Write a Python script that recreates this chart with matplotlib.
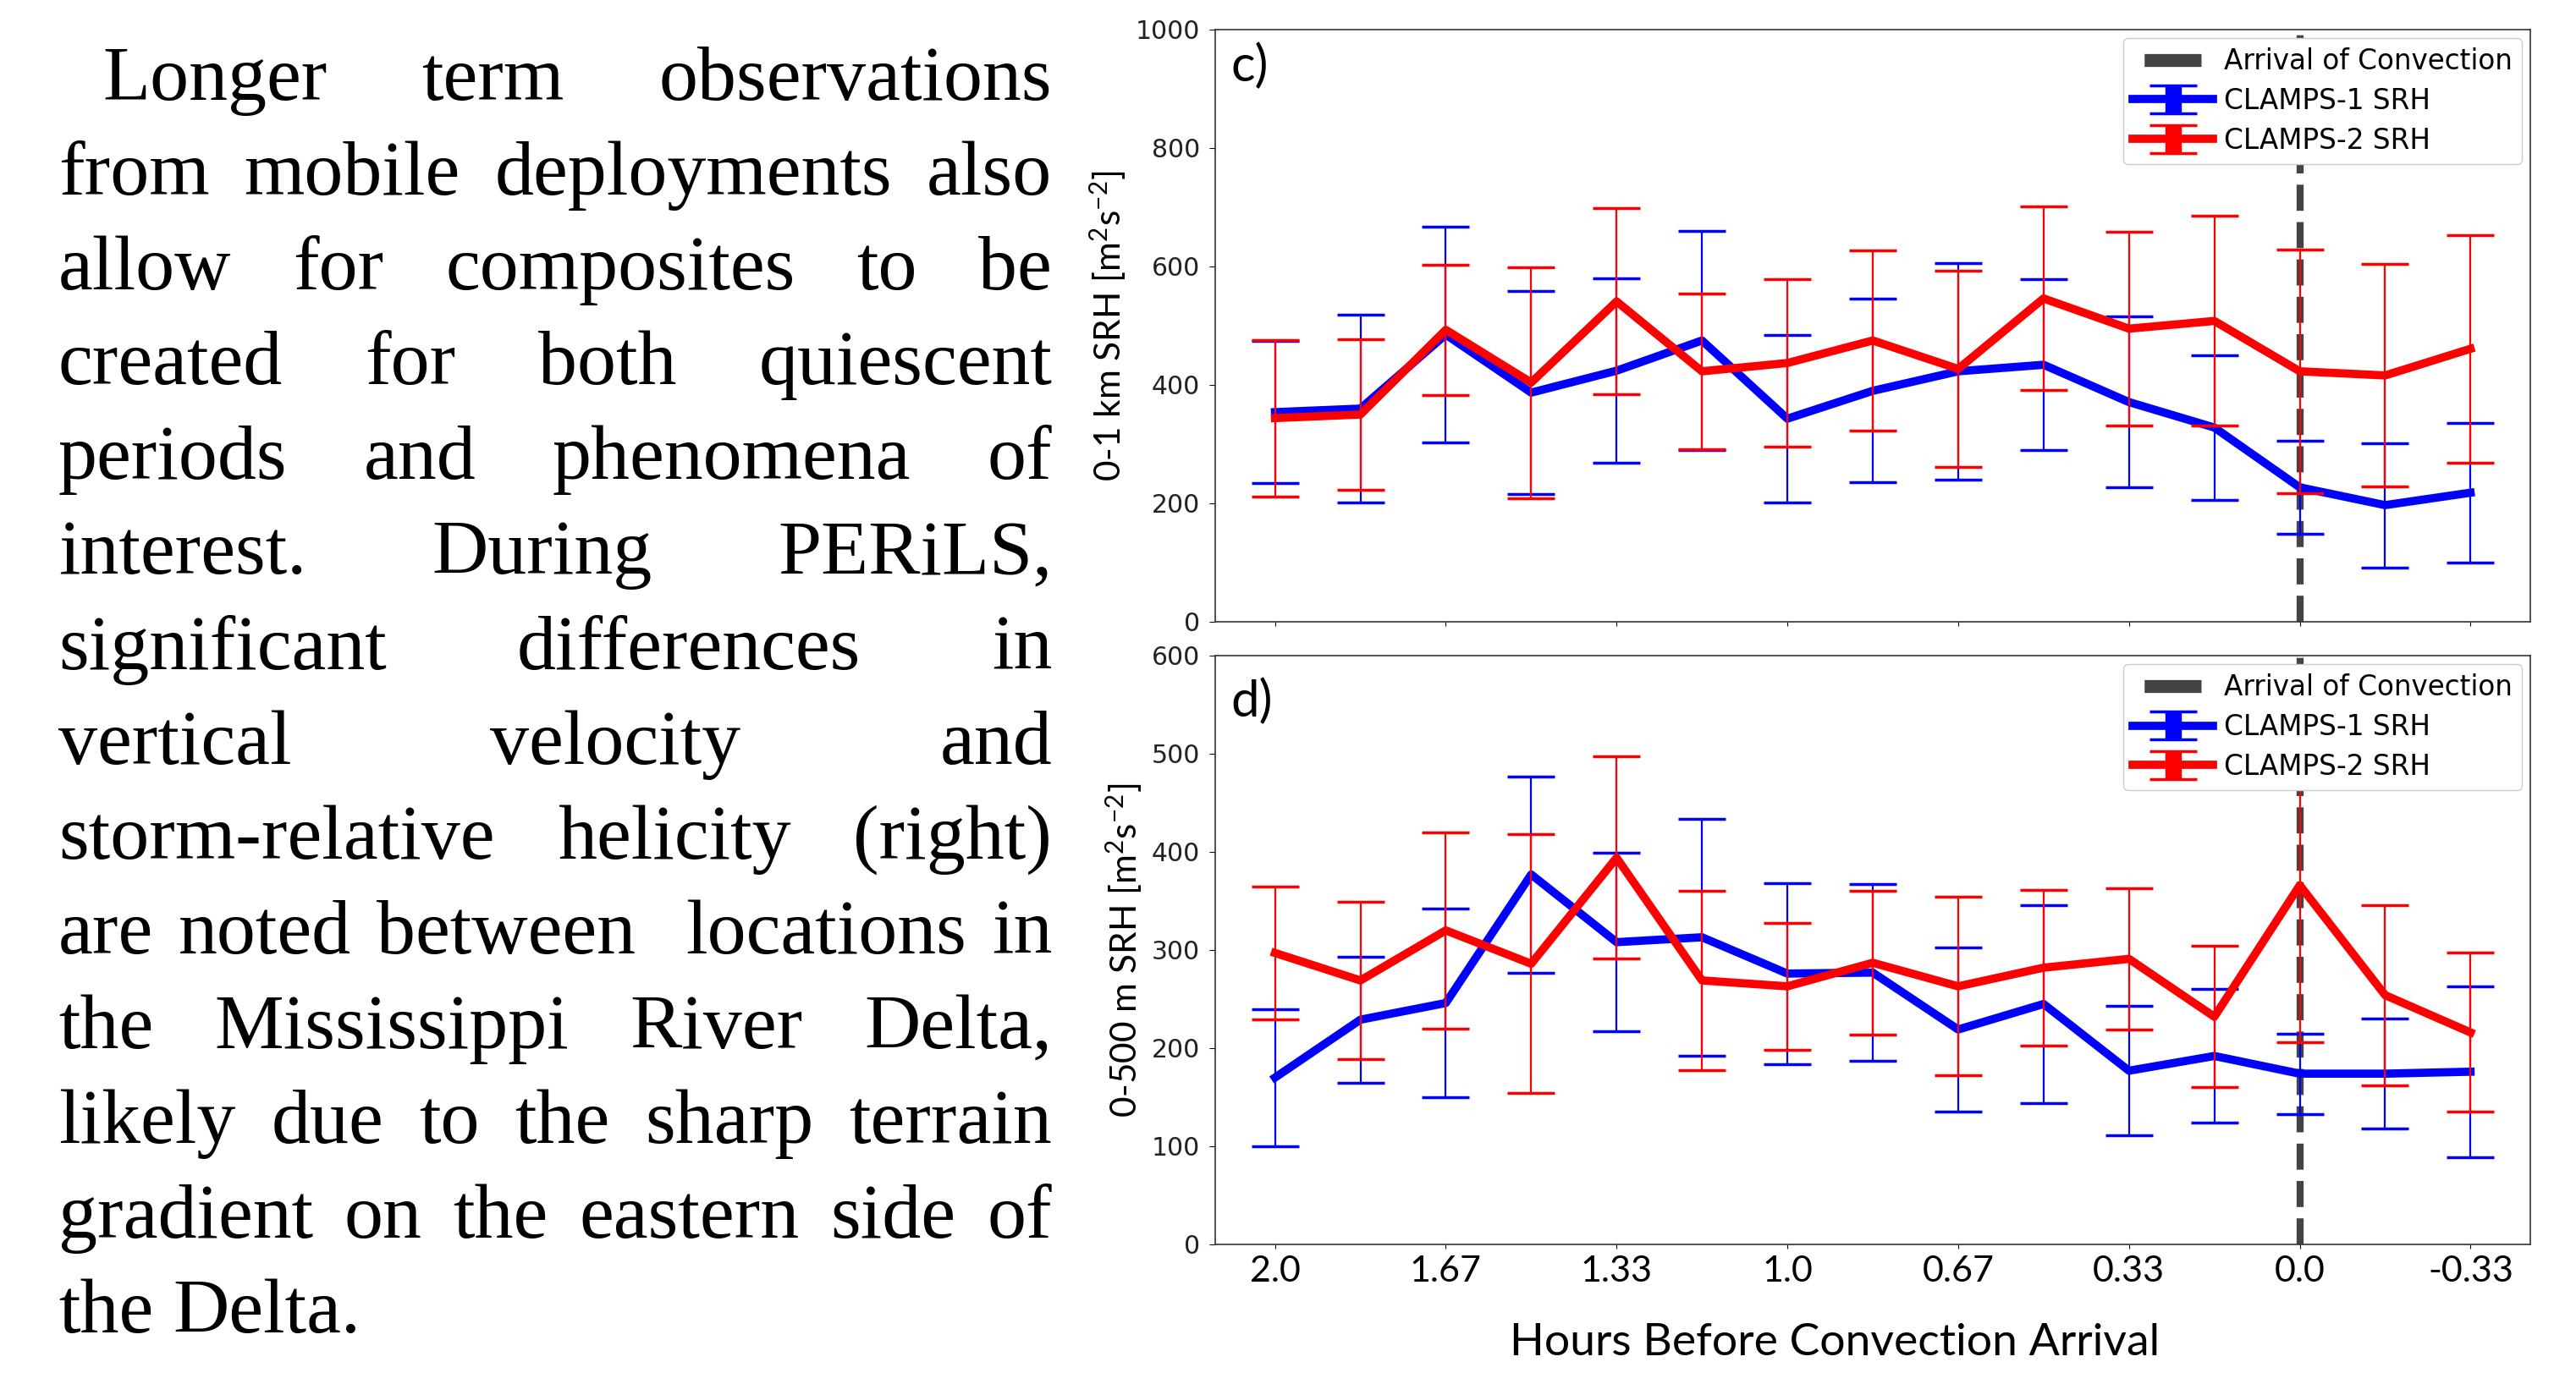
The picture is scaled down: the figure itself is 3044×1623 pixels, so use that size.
import numpy as np
import matplotlib
matplotlib.use("Agg")
import matplotlib.pyplot as plt
from matplotlib.lines import Line2D

# ---------------- data ----------------
hours_before = [2.0, 1.83, 1.67, 1.5, 1.33, 1.17, 1.0, 0.83, 0.67, 0.5, 0.33, 0.17, 0.0, -0.17, -0.33]
tick_labels = ["2.0", "1.67", "1.33", "1.0", "0.67", "0.33", "0.0", "-0.33"]

# 0-1 km SRH (panel c)
c1_srh1km = [354, 360, 485, 387, 424, 475, 343, 390, 423, 434, 371, 328, 227, 197, 218]
c1_srh1km_err = [120, 158, 182, 171, 156, 185, 141, 155, 183, 144, 144, 122, 79, 105, 118]
c2_srh1km = [344, 350, 493, 404, 541, 423, 437, 475, 427, 546, 495, 508, 423, 416, 461]
c2_srh1km_err = [132, 127, 110, 195, 157, 131, 142, 152, 166, 155, 163, 177, 206, 188, 192]

# 0-500 m SRH (panel d)
c1_srh500 = [170, 229, 246, 377, 308, 313, 276, 277, 219, 245, 177, 192, 174, 174, 176]
c1_srh500_err = [70, 64, 96, 100, 91, 121, 92, 90, 84, 101, 66, 68, 41, 56, 87]
c2_srh500 = [297, 269, 320, 286, 394, 269, 263, 287, 263, 282, 291, 232, 366, 254, 216]
c2_srh500_err = [68, 80, 100, 132, 103, 91, 65, 73, 91, 79, 72, 72, 160, 92, 81]

paragraph = [
    "Longer term observations",
    "from mobile deployments also",
    "allow for composites to be",
    "created for both quiescent",
    "periods and phenomena of",
    "interest. During PERiLS,",
    "significant differences in",
    "vertical velocity and",
    "storm-relative helicity (right)",
    "are noted between  locations in",
    "the Mississippi River Delta,",
    "likely due to the sharp terrain",
    "gradient on the eastern side of",
    "the Delta.",
]

# ---------------- figure ----------------
plt.rcParams["mathtext.fontset"] = "custom"
plt.rcParams["mathtext.rm"] = "Lato"
plt.rcParams["mathtext.it"] = "Lato:italic"
plt.rcParams["mathtext.bf"] = "Lato:bold"

W, H = 3044, 1623
DPI = 100
fig = plt.figure(figsize=(W / DPI, H / DPI), dpi=DPI)
fig.patch.set_facecolor("white")

narrow = ["Lato", "DejaVu Sans"]
ax_left = 1436 / W
ax_w = (2990 - 1436) / W
ax_top = fig.add_axes([ax_left, 1 - 735 / H, ax_w, 700 / H])
ax_bot = fig.add_axes([ax_left, 1 - 1471 / H, ax_w, 696 / H])

xpos = np.arange(len(hours_before))
arrival_idx = hours_before.index(0.0)

BLUE = "#0000ff"
RED = "#ff0000"
GRAY = "#444444"


def panel(ax, m1, e1, m2, e2, ymax, ystep, ylabel, tag, tag_y):
    ax.axvline(xpos[arrival_idx], color=GRAY, lw=6, ls="--", zorder=1)
    eb1 = ax.errorbar(xpos, m1, yerr=e1, color=BLUE, lw=7, elinewidth=1.6,
                      capsize=20, capthick=2.5, zorder=3)
    eb2 = ax.errorbar(xpos, m2, yerr=e2, color=RED, lw=7, elinewidth=1.6,
                      capsize=20, capthick=2.5, zorder=4)
    ax.set_ylim(0, ymax)
    ax.set_yticks(np.arange(0, ymax + 1, ystep))
    ax.set_xticks(xpos[::2])
    ax.tick_params(axis="y", labelsize=21.5, length=5, pad=8, labelcolor="#222222")
    ax.tick_params(axis="x", labelsize=31, length=3.5, pad=6)
    for lab in ax.get_xticklabels():
        lab.set_family(narrow)
    ax.set_ylabel(ylabel, fontsize=30.5, family=narrow, labelpad=6)
    ax.text(0.012, tag_y, tag, transform=ax.transAxes, fontsize=43,
            family=narrow, ha="left", va="top")
    for s in ax.spines.values():
        s.set_color("#333333")
        s.set_linewidth(1.2)
    arrival = Line2D([], [], color=GRAY, lw=11, ls=(13.5, (4.4, 10)))
    leg = ax.legend([arrival, eb1, eb2],
                    ["Arrival of Convection", "CLAMPS-1 SRH", "CLAMPS-2 SRH"],
                    loc="upper right", fontsize=23.5, framealpha=1,
                    labelspacing=0.42, handlelength=2.9, handletextpad=0.4,
                    borderaxespad=0.3, borderpad=0.35)
    leg.set_zorder(10)
    for h in leg.legend_handles[1:]:
        try:
            h.set_linewidth(14)
        except Exception:
            pass
    return ax


panel(ax_top, c1_srh1km, c1_srh1km_err, c2_srh1km, c2_srh1km_err, 1000, 200,
      r"0-1 km SRH [m$^{2}$s$^{-2}$]", "c)", 0.978)
panel(ax_bot, c1_srh500, c1_srh500_err, c2_srh500, c2_srh500_err, 600, 100,
      r"0-500 m SRH [m$^{2}$s$^{-2}$]", "d)", 0.962)
ax_top.set_xticklabels([])
ax_bot.set_xticklabels(tick_labels)
ax_bot.set_xlabel("Hours Before Convection Arrival", fontsize=38.5, family=narrow, labelpad=30)
ax_bot.xaxis.label.set_x(0.471)

# ---------------- justified paragraph ----------------
renderer = fig.canvas.get_renderer()
FS = 66.2
SERIF = ["Liberation Serif", "DejaVu Serif"]
left_px, right_px = 69, 1243
first_indent = 121
base0 = 118
line_step = 112.1

for i, line in enumerate(paragraph):
    words = line.split(" ")
    y = 1 - (base0 + i * line_step) / H
    x0 = first_indent if i == 0 else left_px
    arts = []
    widths = []
    for w in words:
        t = fig.text(0, y, w, fontsize=FS, family=SERIF, ha="left", va="baseline")
        arts.append(t)
        widths.append(t.get_window_extent(renderer).width if w else 0.0)
    if i == len(paragraph) - 1:
        t2 = fig.text(0, 0, "a a", fontsize=FS, family=SERIF)
        t1 = fig.text(0, 0, "aa", fontsize=FS, family=SERIF)
        gap = t2.get_window_extent(renderer).width - t1.get_window_extent(renderer).width
        t2.remove()
        t1.remove()
    else:
        gap = (right_px - x0 - sum(widths)) / max(len(words) - 1, 1)
    x = x0
    for t, wdt in zip(arts, widths):
        t.set_x(x / W)
        x += wdt + gap

fig.savefig("out.png", dpi=DPI, facecolor="white")
